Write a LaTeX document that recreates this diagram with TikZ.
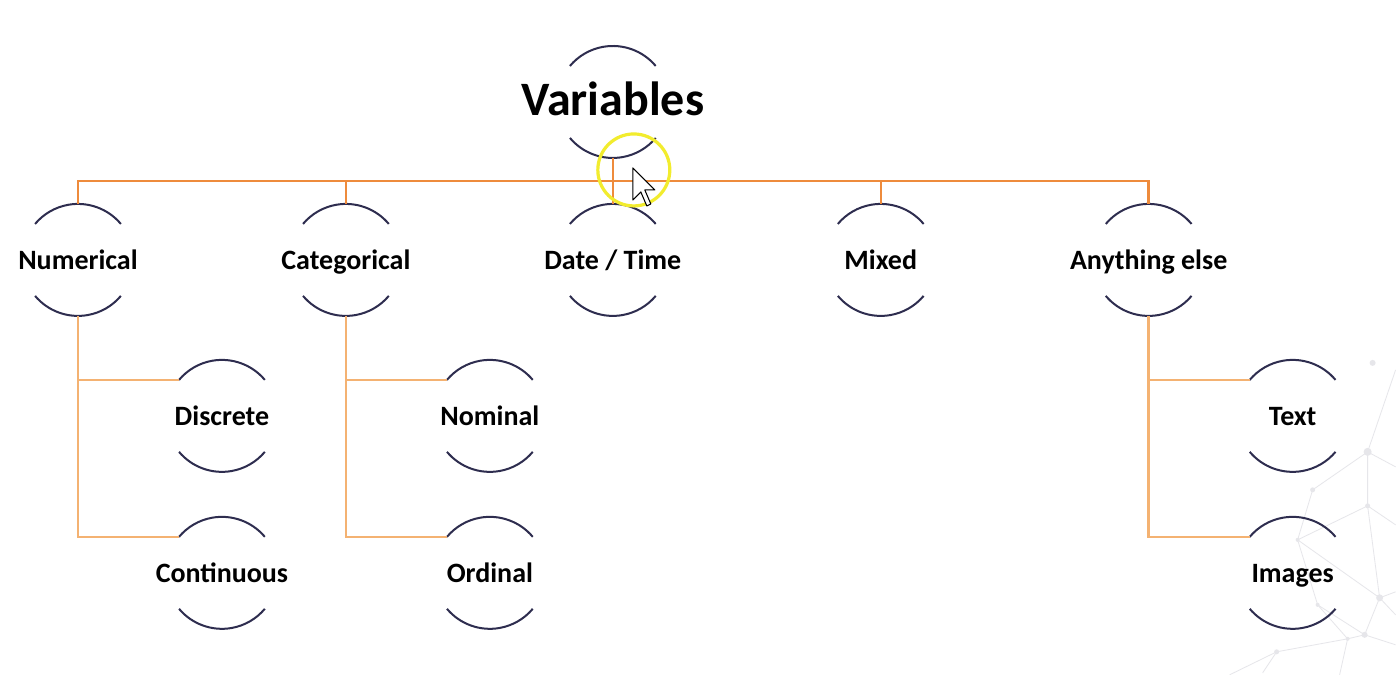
\documentclass[tikz,border=0pt]{standalone}
\usepackage{fontspec}
\setsansfont{Carlito}
\usetikzlibrary{calc}
\definecolor{arcnavy}{HTML}{2E2D4F}
\definecolor{busorange}{HTML}{EE8B3C}
\definecolor{branchpeach}{HTML}{F4B272}
\definecolor{ringyellow}{HTML}{F2EC2E}
\definecolor{netgrey}{HTML}{E6E6EA}

\begin{document}
\begin{tikzpicture}[
  x=0.75pt,y=0.75pt,
  lbl/.style={font=\sffamily\bfseries\fontsize{21}{25}\selectfont, text=black, inner sep=0pt, anchor=base, yshift=-7pt},
  toplbl/.style={font=\sffamily\bfseries\fontsize{36}{43}\selectfont, text=black, inner sep=0pt, anchor=base, yshift=-10.5pt},
  vnode/.style={circle, minimum size=84pt, inner sep=0pt, outer sep=0pt},
  arcline/.style={line width=1.5pt, color=arcnavy},
  busline/.style={line width=1.8pt, color=busorange},
  subline/.style={line width=1.8pt, color=branchpeach},
  net/.style={line width=0.6pt, color=netgrey},
  netdot/.style={fill=netgrey},
]
\fill[white] (0,0) rectangle (1396,675);
% faint network in the corner
\draw[net] (1396,305)--(1368,223)--(1313,185)--(1298,135)--(1380,77)--(1396,83); \draw[net] (1368,223)--(1368,169)--(1298,135); \draw[net] (1368,223)--(1396,208); \draw[net] (1368,169)--(1396,150); \draw[net] (1368,169)--(1380,77)--(1365,40)--(1348,36)--(1277,23)--(1263,2); \draw[net] (1298,135)--(1318,70)--(1365,40); \draw[net] (1318,70)--(1348,36)--(1340,0); \draw[net] (1277,23)--(1230,0); \draw[net] (1380,77)--(1396,60); \draw[net] (1365,40)--(1396,30);
\fill[netdot] (1373,312) circle (3); \fill[netdot] (1368,223) circle (4); \fill[netdot] (1313,185) circle (2.5); \fill[netdot] (1368,169) circle (2.5); \fill[netdot] (1298,135) circle (2); \fill[netdot] (1380,77) circle (3.5); \fill[netdot] (1318,70) circle (2); \fill[netdot] (1365,40) circle (3); \fill[netdot] (1348,36) circle (2); \fill[netdot] (1277,23) circle (2.5);
% circles
\node[vnode] (var) at (613,573) {};
\node[vnode] (num) at (78,415) {};\node[vnode] (cat) at (346,415) {};\node[vnode] (date) at (613,415) {};\node[vnode] (mix) at (881,415) {};\node[vnode] (any) at (1149,415) {};
\node[vnode] (disc) at (222,259) {};\node[vnode] (cont) at (222,102) {};
\node[vnode] (nom) at (490,259) {};\node[vnode] (ord) at (490,102) {};
\node[vnode] (txt) at (1293,259) {};\node[vnode] (img) at (1293,102) {};
% arcs above and below each label
\draw[arcline] (var.40) arc[start angle=40,end angle=140,radius=42pt] (var.220) arc[start angle=220,end angle=320,radius=42pt];
\draw[arcline] (num.40) arc[start angle=40,end angle=140,radius=42pt] (num.220) arc[start angle=220,end angle=320,radius=42pt];
\draw[arcline] (cat.40) arc[start angle=40,end angle=140,radius=42pt] (cat.220) arc[start angle=220,end angle=320,radius=42pt];
\draw[arcline] (date.40) arc[start angle=40,end angle=140,radius=42pt] (date.220) arc[start angle=220,end angle=320,radius=42pt];
\draw[arcline] (mix.40) arc[start angle=40,end angle=140,radius=42pt] (mix.220) arc[start angle=220,end angle=320,radius=42pt];
\draw[arcline] (any.40) arc[start angle=40,end angle=140,radius=42pt] (any.220) arc[start angle=220,end angle=320,radius=42pt];
\draw[arcline] (disc.40) arc[start angle=40,end angle=140,radius=42pt] (disc.220) arc[start angle=220,end angle=320,radius=42pt];
\draw[arcline] (cont.40) arc[start angle=40,end angle=140,radius=42pt] (cont.220) arc[start angle=220,end angle=320,radius=42pt];
\draw[arcline] (nom.40) arc[start angle=40,end angle=140,radius=42pt] (nom.220) arc[start angle=220,end angle=320,radius=42pt];
\draw[arcline] (ord.40) arc[start angle=40,end angle=140,radius=42pt] (ord.220) arc[start angle=220,end angle=320,radius=42pt];
\draw[arcline] (txt.40) arc[start angle=40,end angle=140,radius=42pt] (txt.220) arc[start angle=220,end angle=320,radius=42pt];
\draw[arcline] (img.40) arc[start angle=40,end angle=140,radius=42pt] (img.220) arc[start angle=220,end angle=320,radius=42pt];
% labels
\node[toplbl] (vartxt) at (var) {Variables};
\node[lbl] (numtxt) at (num) {Numerical};\node[lbl] (cattxt) at (cat) {Categorical};\node[lbl] (datetxt) at (date) {Date / Time};\node[lbl] (mixtxt) at (mix) {Mixed};\node[lbl] (anytxt) at (any) {Anything else};
\node[lbl] (disctxt) at (disc) {Discrete};\node[lbl] (conttxt) at (cont) {Continuous};\node[lbl] (nomtxt) at (nom) {Nominal};\node[lbl] (ordtxt) at (ord) {Ordinal};\node[lbl] (txttxt) at (txt) {Text};\node[lbl] (imgtxt) at (img) {Images};
% connectors
\coordinate (bus) at (613,494);
\draw[busline] (num.north) |- (bus) -| (any.north);
\draw[busline] (cat.north) -- (cat.north |- bus); \draw[busline] (mix.north) -- (mix.north |- bus);
\draw[busline] (var.south) -- (date.north);
\draw[subline] (num.south) |- (disc.140); \draw[subline] (num.south) |- (cont.140);
\draw[subline] (cat.south) |- (nom.140); \draw[subline] (cat.south) |- (ord.140);
\draw[subline] (any.south) |- (txt.140); \draw[subline] (any.south) |- (img.140);
% pointer highlight
\draw[line width=2.4pt,color=ringyellow] (634,505) circle (36);
\draw[line width=0.8pt,fill=white,line join=round] (633,507)--(633,475)--(641,483)--(647,469)--(651,471)--(645,485)--(655,485)--cycle;
\end{tikzpicture}
\end{document}
